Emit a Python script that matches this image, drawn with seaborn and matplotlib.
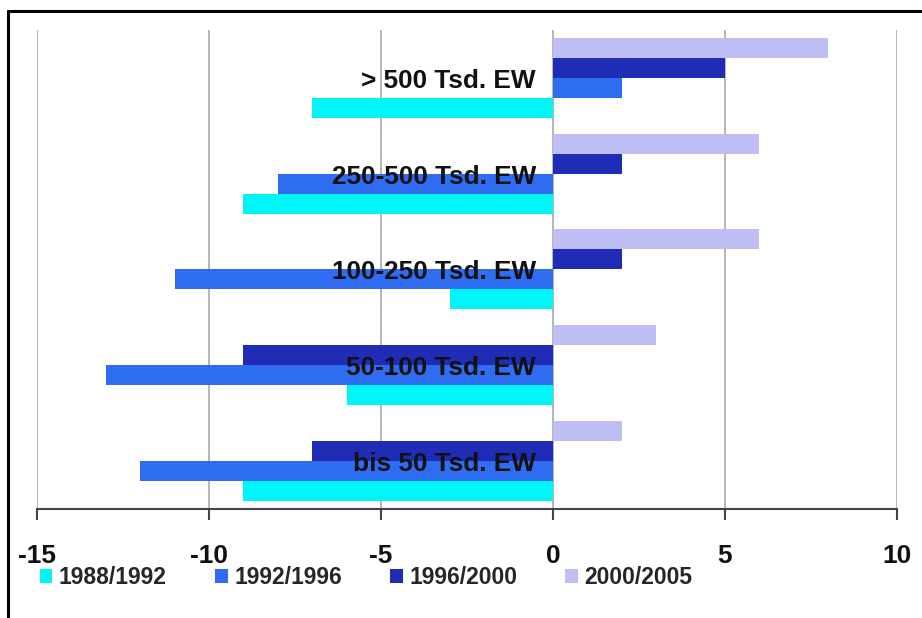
import matplotlib
matplotlib.use("Agg")
import matplotlib.pyplot as plt
from matplotlib.patches import Patch
from matplotlib.lines import Line2D
import seaborn as sns
import pandas as pd

# Population change (%) by municipality size class and period
categories = ["> 500 Tsd. EW", "250-500 Tsd. EW", "100-250 Tsd. EW",
              "50-100 Tsd. EW", "bis 50 Tsd. EW"]
periods = ["1988/1992", "1992/1996", "1996/2000", "2000/2005"]
v_1988_1992 = [-7, -9, -3, -6, -9]
v_1992_1996 = [2, -8, -11, -13, -12]
v_1996_2000 = [5, 2, 2, -9, -7]
v_2000_2005 = [8, 6, 6, 3, 2]
x_ticks = [-15, -10, -5, 0, 5, 10]

colors = {"1988/1992": "#00F6F6", "1992/1996": "#2E6CF2",
          "1996/2000": "#1F2DB6", "2000/2005": "#BEBEF5"}

series = {"1988/1992": v_1988_1992, "1992/1996": v_1992_1996,
          "1996/2000": v_1996_2000, "2000/2005": v_2000_2005}
rows = []
for p in periods:
    for c, v in zip(categories, series[p]):
        rows.append({"Größenklasse": c, "Zeitraum": p, "Wert": v})
df = pd.DataFrame(rows)

sns.set_theme(style="white")
plt.rcParams["font.family"] = ["Liberation Sans", "DejaVu Sans"]
plt.rcParams["font.weight"] = "bold"

fig = plt.figure(figsize=(9.22, 6.18), dpi=100)
ax = fig.add_axes([0.0401, 0.1764, 0.9328, 0.7751])

# newest period on top within each group
stack_order = periods[::-1]
sns.barplot(data=df, y="Größenklasse", x="Wert", hue="Zeitraum",
            order=categories, hue_order=stack_order,
            palette=colors, orient="h", width=0.835, gap=0,
            saturation=1, ax=ax, legend=False, linewidth=0)

ax.set_xlim(-15, 10)
ax.set_ylim(len(categories) - 0.5, -0.5)
ax.set_xticks(x_ticks)
ax.set_xticklabels([str(t) for t in x_ticks], fontsize=19, fontweight="bold",
                   color="#111111")
ax.tick_params(axis="x", direction="out", length=8, width=1.5,
               color="#444444", pad=17, bottom=True)
ax.set_yticks([])
ax.set_xlabel("")
ax.set_ylabel("")
ax.xaxis.grid(True, color="#b5b5b5", linewidth=1.4)
ax.set_axisbelow(True)
for s in ["left", "right", "top"]:
    ax.spines[s].set_visible(False)
ax.spines["bottom"].set_color("#444444")
ax.spines["bottom"].set_linewidth(1.5)

# size class names placed just left of zero
for i, c in enumerate(categories):
    ax.text(-0.5, i + 0.03, c, ha="right", va="center", fontsize=18.8,
            fontweight="bold", color="#111111", zorder=5)

handles = [Patch(facecolor=colors[p], edgecolor="none") for p in periods]
fig.legend(handles, periods, loc="center left", bbox_to_anchor=(0.043, 0.065),
           ncol=4, frameon=False, prop={"size": 16.5, "weight": "bold"},
           handlelength=0.56, handleheight=0.56, handletextpad=0.28,
           columnspacing=2.1, borderaxespad=0, borderpad=0)

# outer frame
fig.add_artist(Line2D([8 / 922, 8 / 922], [0, 1 - 11 / 618], color="black",
                      linewidth=2.2, transform=fig.transFigure))
fig.add_artist(Line2D([8 / 922, 1], [1 - 11 / 618, 1 - 11 / 618], color="black",
                      linewidth=2.2, transform=fig.transFigure))

fig.savefig("out.png", dpi=100)
